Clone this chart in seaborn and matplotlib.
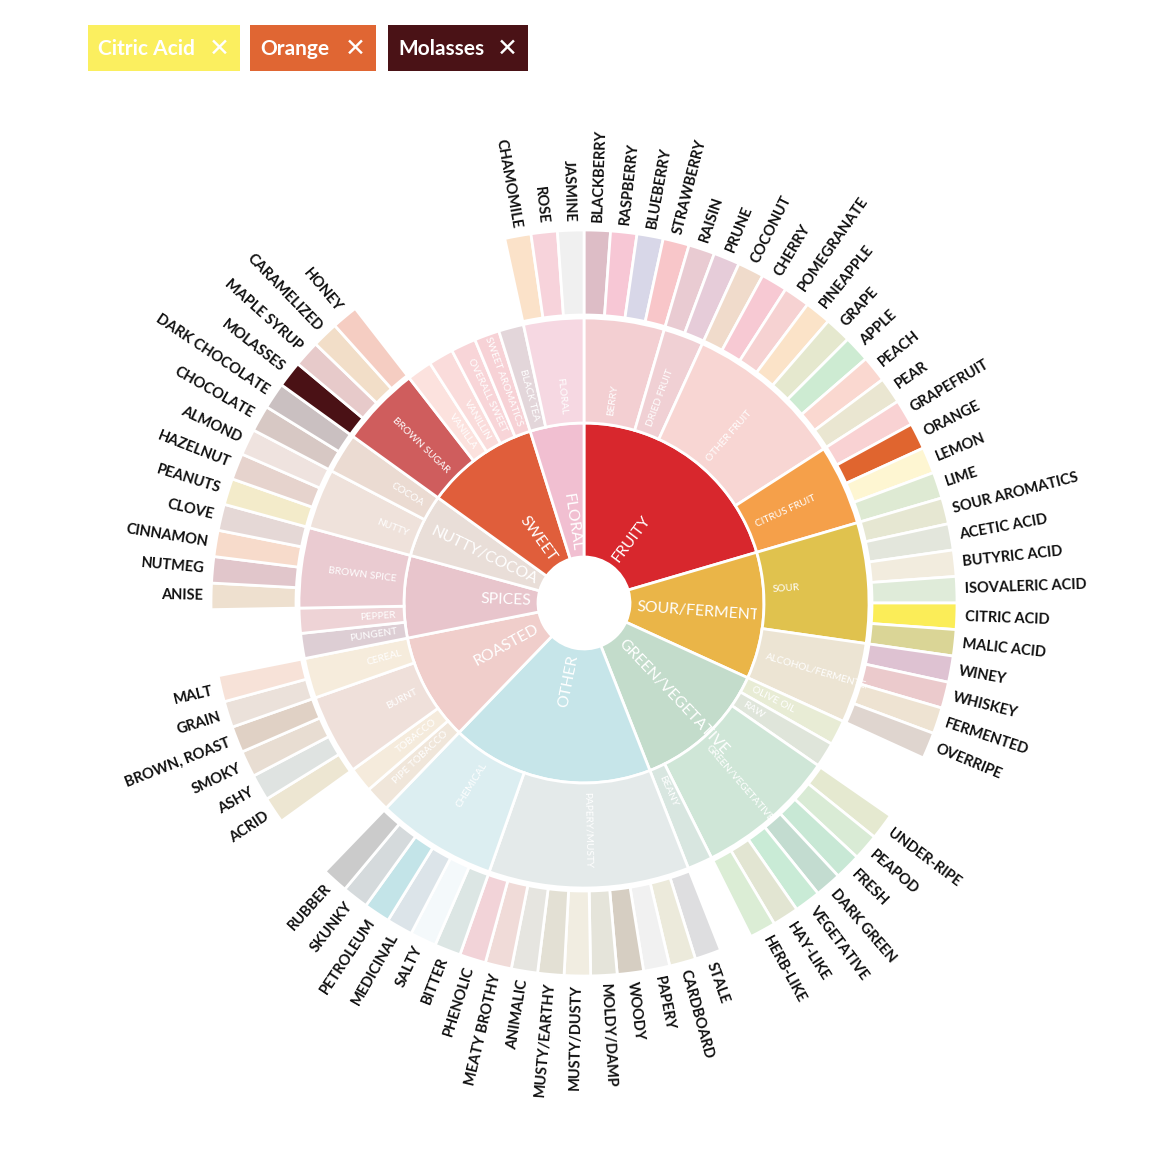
import numpy as np
import matplotlib
matplotlib.use("Agg")
import matplotlib.pyplot as plt
from matplotlib.patches import Rectangle
import seaborn as sns

# ---------------- data ----------------
categories = ["FRUITY", "SOUR/FERMENTED", "GREEN/VEGETATIVE", "OTHER", "ROASTED",
              "SPICES", "NUTTY/COCOA", "SWEET", "FLORAL"]
category_colors = ["#D8272D", "#EAB548", "#C3DCCB", "#C6E5E9", "#F0CECB",
                   "#E8C5CC", "#E9DED8", "#E05E3B", "#F1BFD1"]

subcategories = ["BERRY", "DRIED FRUIT", "OTHER FRUIT", "CITRUS FRUIT",
                 "SOUR", "ALCOHOL/FERMENTED",
                 "OLIVE OIL", "RAW", "GREEN/VEGETATIVE", "BEANY",
                 "PAPERY/MUSTY", "CHEMICAL",
                 "PIPE TOBACCO", "TOBACCO", "BURNT", "CEREAL",
                 "PUNGENT", "PEPPER", "BROWN SPICE",
                 "NUTTY", "COCOA",
                 "BROWN SUGAR", "VANILLA", "VANILLIN", "OVERALL SWEET", "SWEET AROMATICS",
                 "BLACK TEA", "FLORAL"]
subcategory_parent = [0, 0, 0, 0, 1, 1, 2, 2, 2, 2, 3, 3, 4, 4, 4, 4,
                      5, 5, 5, 6, 6, 7, 7, 7, 7, 7, 8, 8]
subcategory_colors = ["#F3CFD2", "#F0D0D4", "#F8D6D3", "#F5A04A",
                      "#E0C24E", "#ECE4D3",
                      "#E8ECD5", "#DFE5DA", "#CFE6D7", "#D8E6E0",
                      "#E4EAEA", "#DCEEF1",
                      "#F0E6DA", "#F5EBDC", "#EFE0DA", "#F6ECDC",
                      "#DDCED4", "#EED3D6", "#EACBD1",
                      "#EFE2DB", "#EBDBD2",
                      "#CF5D5D", "#FCE2DE", "#FADCDB", "#F8D5D8", "#F7D2D6",
                      "#E3D6DA", "#F6D8E2"]

flavors = ["BLACKBERRY", "RASPBERRY", "BLUEBERRY", "STRAWBERRY",
           "RAISIN", "PRUNE",
           "COCONUT", "CHERRY", "POMEGRANATE", "PINEAPPLE", "GRAPE", "APPLE", "PEACH", "PEAR",
           "GRAPEFRUIT", "ORANGE", "LEMON", "LIME",
           "SOUR AROMATICS", "ACETIC ACID", "BUTYRIC ACID", "ISOVALERIC ACID", "CITRIC ACID", "MALIC ACID",
           "WINEY", "WHISKEY", "FERMENTED", "OVERRIPE",
           "UNDER-RIPE", "PEAPOD", "FRESH", "DARK GREEN", "VEGETATIVE", "HAY-LIKE", "HERB-LIKE",
           "STALE", "CARDBOARD", "PAPERY", "WOODY", "MOLDY/DAMP", "MUSTY/DUSTY", "MUSTY/EARTHY",
           "ANIMALIC", "MEATY BROTHY", "PHENOLIC",
           "BITTER", "SALTY", "MEDICINAL", "PETROLEUM", "SKUNKY", "RUBBER",
           "ACRID", "ASHY", "SMOKY", "BROWN, ROAST",
           "GRAIN", "MALT",
           "ANISE", "NUTMEG", "CINNAMON", "CLOVE",
           "PEANUTS", "HAZELNUT", "ALMOND",
           "CHOCOLATE", "DARK CHOCOLATE",
           "MOLASSES", "MAPLE SYRUP", "CARAMELIZED", "HONEY",
           "CHAMOMILE", "ROSE", "JASMINE"]
flavor_parent = [0, 0, 0, 0, 1, 1, 2, 2, 2, 2, 2, 2, 2, 2, 3, 3, 3, 3,
                 4, 4, 4, 4, 4, 4, 5, 5, 5, 5,
                 8, 8, 8, 8, 8, 8, 8,
                 10, 10, 10, 10, 10, 10, 10, 10, 10, 10,
                 11, 11, 11, 11, 11, 11,
                 14, 14, 14, 14, 15, 15,
                 18, 18, 18, 18,
                 19, 19, 19, 20, 20,
                 21, 21, 21, 21,
                 27, 27, 27]
flavor_colors = ["#DDBDC6", "#F7C7D5", "#D8D7E8", "#F8C6C9",
                 "#E9CBD2", "#E6CCD9",
                 "#F0DBCB", "#F7C9D3", "#F6D2D2", "#FBE3C8", "#E5E8CE", "#CDEBD2", "#FAD8D0", "#EAE6D1",
                 "#F9D2D3", "#E0652F", "#FEF6D2", "#DEEAD3",
                 "#E6E7D2", "#E3E6DC", "#F2ECDE", "#DFEBD9", "#FBED58", "#DAD596",
                 "#DEC2D2", "#EBCACC", "#EEE3D2", "#DFD5CF",
                 "#E5E9D0", "#D9EBD5", "#C8E8D5", "#C3DCD0", "#C9EBD6", "#E2E5D2", "#DBEDD5",
                 "#DEDEE0", "#ECEADB", "#F1F1F1", "#D6CEC2", "#E5E4DA", "#F1EDE1", "#E3E0D4",
                 "#E6E5E0", "#F0DBD8", "#F2D3D8",
                 "#DCE6E4", "#F4F9FB", "#DCE4E9", "#C3E4E8", "#D5DADC", "#CBCBCB",
                 "#EDE6D2", "#DFE3E1", "#E8DDD2", "#E0D1C5",
                 "#EBE1DA", "#F7E2D8",
                 "#EEE0CF", "#E1C6CB", "#F7DBCB", "#E5D8D6",
                 "#F3EBCA", "#E6D3CD", "#EFE3DF",
                 "#D7C8C4", "#CAC0C1",
                 "#4A1115", "#E7CACA", "#F2DEC8", "#F5CDC2",
                 "#FBE2C9", "#F7D3DB", "#F0F0F0"]

flavor_weight = 1.0        # each flavour leaf
single_sub_weight = 1.25   # a subcategory without flavours

legend_labels = ["Citric Acid", "Orange", "Molasses"]
legend_colors = ["#FBEF5F", "#E06633", "#4A1216"]

# ---------------- layout ----------------
sns.set_theme(style="white")
plt.rcParams["font.family"] = ["Lato", "DejaVu Sans"]

W = H = 1170
CX, CY = 584, 603
HALF = 400
R0, R1, R2, R3A, R3B = 46, 180, 285, 288, 373

fig = plt.figure(figsize=(11.7, 11.7), dpi=100)
ax = fig.add_axes([(CX - HALF) / W, (H - CY - HALF) / H, 2 * HALF / W, 2 * HALF / H],
                  projection="polar")
ax.set_theta_zero_location("N")
ax.set_theta_direction(-1)
ax.set_ylim(0, HALF)
ax.set_axis_off()

flavor_parent = np.array(flavor_parent)
subcategory_parent = np.array(subcategory_parent)
n_children = np.array([np.sum(flavor_parent == i) for i in range(len(subcategories))])
sub_size = np.where(n_children > 0, n_children * flavor_weight, single_sub_weight)
cat_size = np.array([sub_size[subcategory_parent == i].sum() for i in range(len(categories))])
deg_per_unit = 360.0 / cat_size.sum()

cat_start = np.concatenate([[0], np.cumsum(cat_size)[:-1]]) * deg_per_unit
cat_width = cat_size * deg_per_unit
sub_start = np.concatenate([[0], np.cumsum(sub_size)[:-1]]) * deg_per_unit
sub_width = sub_size * deg_per_unit

flav_start = []
flav_width = []
for i, p in enumerate(flavor_parent):
    k = np.sum(flavor_parent[:i] == p)
    flav_start.append(sub_start[p] + k * flavor_weight * deg_per_unit)
    flav_width.append(flavor_weight * deg_per_unit)
flav_start = np.array(flav_start)
flav_width = np.array(flav_width)

EDGE = dict(edgecolor="white", linewidth=2.0, align="edge")

bars1 = ax.bar(np.deg2rad(cat_start), R1 - R0, width=np.deg2rad(cat_width), bottom=R0,
               color=category_colors, **EDGE)
bars2 = ax.bar(np.deg2rad(sub_start), R2 - R1, width=np.deg2rad(sub_width), bottom=R1,
               color=subcategory_colors, **EDGE)
bars3 = ax.bar(np.deg2rad(flav_start), R3B - R3A, width=np.deg2rad(flav_width), bottom=R3A,
               color=flavor_colors, **EDGE)


def radial_text(theta_deg, r, s, clip=None, **kw):
    if theta_deg % 360 < 180:
        rot, ha = 90 - theta_deg, "left"
    else:
        rot, ha = 270 - theta_deg, "right"
    t = ax.text(np.deg2rad(theta_deg), r, s, rotation=rot, ha=ha, va="center",
                rotation_mode="anchor", **kw)
    if clip is not None:
        t.set_clip_on(True)
        t.set_clip_box(None)
        t.set_clip_path(clip)
    return t


for name, s, w, patch in zip(categories, cat_start, cat_width, bars1.patches):
    radial_text(s + w / 2, 53, name, clip=patch, color="white", fontsize=11.3)

for name, s, w, patch in zip(subcategories, sub_start, sub_width, bars2.patches):
    radial_text(s + w / 2, 189, name, clip=patch, color="white", fontsize=7.3)

for name, s, w in zip(flavors, flav_start, flav_width):
    radial_text(s + w / 2, 381, name, color="#111111", fontsize=10.5, fontweight="bold")

# ---------------- legend chips ----------------
chip_x = [88, 250, 388]
chip_w = [152, 126, 140]
chip_y, chip_h = 25, 46
for lab, col, x, w in zip(legend_labels, legend_colors, chip_x, chip_w):
    fig.add_artist(Rectangle((x / W, 1 - (chip_y + chip_h) / H), w / W, chip_h / H,
                             transform=fig.transFigure, facecolor=col, edgecolor="none"))
    fig.text((x + 10) / W, 1 - (chip_y + chip_h / 2 + 1) / H, lab, color="white",
             fontsize=15, fontweight="bold", ha="left", va="center")
    fig.text((x + w - 21) / W, 1 - (chip_y + chip_h / 2 + 1) / H, "\u2715", color="white",
             fontsize=18, ha="center", va="center", family=["DejaVu Sans"])

fig.savefig("out.png", dpi=100, facecolor="white")
